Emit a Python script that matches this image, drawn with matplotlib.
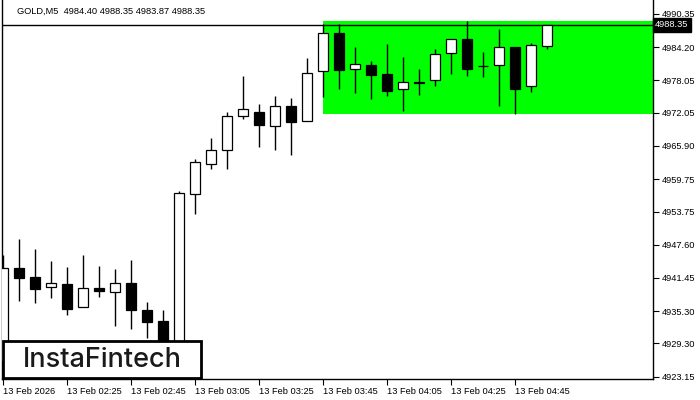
import matplotlib
matplotlib.use("Agg")
import matplotlib.pyplot as plt
from matplotlib.patches import Rectangle
import numpy as np

"""
Data (GOLD, M5, 13 Feb 2026 02:05 - 04:55)
"""
opens = [4926.00, 4943.23, 4941.56, 4939.71, 4940.32, 4936.00, 4939.58, 4938.78,
         4940.45, 4935.50, 4933.47, 4926.50, 4956.94, 4962.50, 4965.10, 4971.40,
         4972.14, 4969.54, 4973.25, 4970.47, 4979.73, 4986.77, 4980.10, 4980.84,
         4979.18, 4976.40, 4977.62, 4978.07, 4983.07, 4985.66, 4980.62, 4980.84,
         4984.18, 4976.95, 4984.40]
highs = [4945.70, 4948.66, 4946.75, 4944.58, 4943.42, 4945.70, 4943.66, 4943.05,
         4944.77, 4937.04, 4935.50, 4957.50, 4963.48, 4967.37, 4972.19, 4978.86,
         4973.67, 4975.16, 4974.79, 4982.20, 4988.50, 4988.50, 4984.24, 4981.64,
         4984.79, 4982.38, 4980.10, 4983.81, 4985.70, 4989.05, 4983.25, 4987.57,
         4984.18, 4984.98, 4988.35]
lows = [4924.50, 4937.23, 4936.75, 4937.78, 4934.52, 4936.00, 4937.97, 4932.60,
        4932.04, 4930.32, 4925.50, 4926.00, 4953.35, 4961.69, 4961.69, 4970.84,
        4965.76, 4965.21, 4964.28, 4970.47, 4975.03, 4976.51, 4975.77, 4974.66,
        4975.21, 4972.43, 4975.40, 4977.06, 4979.29, 4978.92, 4978.73, 4973.36,
        4971.77, 4975.95, 4983.87]
closes = [4943.29, 4941.49, 4939.45, 4940.45, 4935.75, 4939.53, 4939.08, 4940.45,
          4935.50, 4933.34, 4926.50, 4957.13, 4962.87, 4965.10, 4971.40, 4972.69,
          4969.84, 4973.25, 4970.39, 4979.36, 4986.77, 4980.03, 4981.03, 4979.10,
          4976.14, 4977.69, 4977.70, 4982.88, 4985.66, 4980.21, 4980.66, 4984.18,
          4976.51, 4984.55, 4988.35]

time_labels = ["13 Feb 2026", "13 Feb 02:25", "13 Feb 02:45", "13 Feb 03:05",
               "13 Feb 03:25", "13 Feb 03:45", "13 Feb 04:05", "13 Feb 04:25",
               "13 Feb 04:45"]
price_ticks = [4990.35, 4984.20, 4978.05, 4972.05, 4965.90, 4959.75, 4953.75,
               4947.60, 4941.45, 4935.30, 4929.30, 4923.15]
last_price = 4988.35
header = "GOLD,M5  4984.40 4988.35 4983.87 4988.35"
range_start = 20  # first bar of the rectangle pattern

font = "Liberation Sans"
fs = 6.7

o = np.array(opens)
h = np.array(highs)
l = np.array(lows)
c = np.array(closes)
x = np.arange(len(o))

fig = plt.figure(figsize=(7, 4), dpi=100)
ax = fig.add_axes([2 / 700, 21 / 400, 651 / 700, 379 / 400])

"""
Rectangle pattern
"""
rng_top = h[range_start:].max()
rng_bot = l[range_start:].min()
ax.add_patch(Rectangle((range_start, rng_bot), 100, rng_top - rng_bot,
                       facecolor="#00ff00", edgecolor="none", zorder=1))

# current price line
ax.axhline(last_price, color="black", lw=1, zorder=1.5)

"""
Candles
"""
ax.vlines(x, l, h, color="black", lw=1, zorder=2)
bull = c >= o
body_bot = np.minimum(o, c)
body_h = np.maximum(np.abs(c - o), 0.05)
ax.bar(x, body_h, bottom=body_bot, width=0.64,
       color=np.where(bull, "white", "black"), edgecolor="black",
       linewidth=0.9, zorder=3)

ax.set_xlim(-0.06, 40.625)
ax.set_ylim(4922.72, 4992.94)

ax.spines["top"].set_visible(False)
for s in ["left", "right", "bottom"]:
    ax.spines[s].set_linewidth(1)

ax.yaxis.tick_right()
ax.set_yticks(price_ticks)
ax.set_yticklabels(["%.2f" % p for p in price_ticks], fontfamily=font, fontsize=fs)
ax.tick_params(axis="y", length=4, width=0.8, pad=2)

ax.set_xticks(np.arange(0, 4 * len(time_labels), 4))
ax.set_xticklabels(time_labels, fontfamily=font, fontsize=fs)
ax.tick_params(axis="x", length=4, width=0.8, pad=2)
for lab in ax.get_xticklabels():
    lab.set_horizontalalignment("left")

# price label on the axis
ax.text(1.003, last_price, "%.2f" % last_price, transform=ax.get_yaxis_transform(),
        ha="left", va="center", color="white", fontfamily=font, fontsize=fs,
        bbox=dict(boxstyle="square,pad=0.25", facecolor="black", edgecolor="black"),
        zorder=5, clip_on=False)

# header
fig.text(17 / 700, 1 - 11 / 400, header, ha="left", va="center",
         fontfamily=font, fontsize=fs, color="black")

"""
Logo
"""
fig.add_artist(Rectangle((3 / 700, 22 / 400), 198 / 700, 37 / 400,
                         transform=fig.transFigure, facecolor="white",
                         edgecolor="black", linewidth=2, zorder=10))
fig.text(102 / 700, 40 / 400, "InstaFintech", ha="center", va="center",
         fontfamily="Inter", fontsize=19.5, fontweight="medium",
         color="#1a1a1a", zorder=11)

fig.savefig("out.png", dpi=100)
